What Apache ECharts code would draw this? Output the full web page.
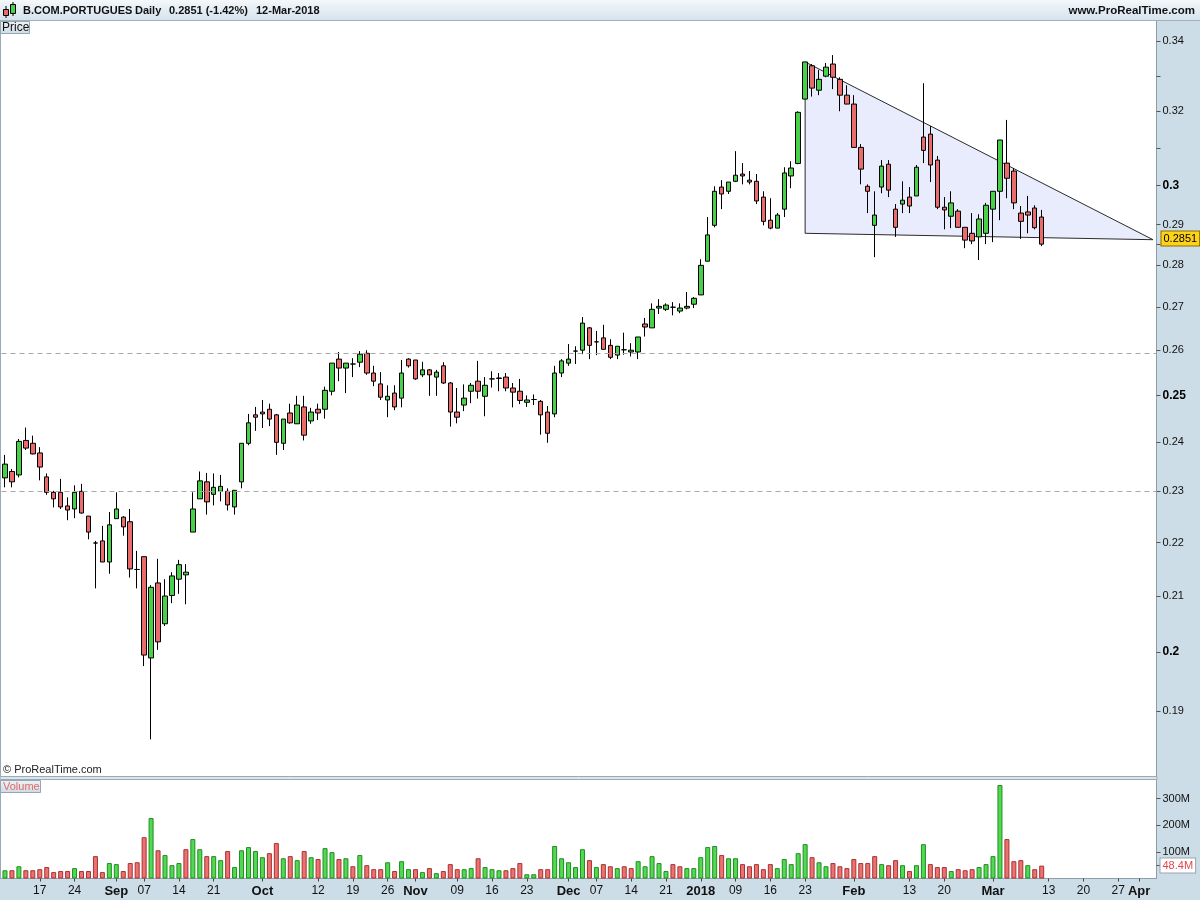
<!DOCTYPE html>
<html><head><meta charset="utf-8">
<script src="https://cdn.jsdelivr.net/npm/echarts@6/dist/echarts.min.js"></script>
<style>html,body{margin:0;padding:0;background:#fff}#c{width:1200px;height:900px}</style>
</head><body><div id="c"></div>
<script>
// ---------------- data ----------------
const dates = [
'2017-08-10','2017-08-11','2017-08-14','2017-08-15','2017-08-16','2017-08-17','2017-08-18','2017-08-21','2017-08-22','2017-08-23','2017-08-24','2017-08-25','2017-08-28','2017-08-29','2017-08-30','2017-08-31',
'2017-09-01','2017-09-04','2017-09-05','2017-09-06','2017-09-07','2017-09-08','2017-09-11','2017-09-12','2017-09-13','2017-09-14','2017-09-15','2017-09-18','2017-09-19','2017-09-20','2017-09-21','2017-09-22','2017-09-25','2017-09-26','2017-09-27','2017-09-28','2017-09-29',
'2017-10-02','2017-10-03','2017-10-04','2017-10-05','2017-10-06','2017-10-09','2017-10-10','2017-10-11','2017-10-12','2017-10-13','2017-10-16','2017-10-17','2017-10-18','2017-10-19','2017-10-20','2017-10-23','2017-10-24','2017-10-25','2017-10-26','2017-10-27','2017-10-30','2017-10-31',
'2017-11-01','2017-11-02','2017-11-03','2017-11-06','2017-11-07','2017-11-08','2017-11-09','2017-11-10','2017-11-13','2017-11-14','2017-11-15','2017-11-16','2017-11-17','2017-11-20','2017-11-21','2017-11-22','2017-11-23','2017-11-24','2017-11-27','2017-11-28','2017-11-29','2017-11-30',
'2017-12-01','2017-12-04','2017-12-05','2017-12-06','2017-12-07','2017-12-08','2017-12-11','2017-12-12','2017-12-13','2017-12-14','2017-12-15','2017-12-18','2017-12-19','2017-12-20','2017-12-21','2017-12-22','2017-12-27','2017-12-28','2017-12-29',
'2018-01-02','2018-01-03','2018-01-04','2018-01-05','2018-01-08','2018-01-09','2018-01-10','2018-01-11','2018-01-12','2018-01-15','2018-01-16','2018-01-17','2018-01-18','2018-01-19','2018-01-22','2018-01-23','2018-01-24','2018-01-25','2018-01-26','2018-01-29','2018-01-30','2018-01-31',
'2018-02-01','2018-02-02','2018-02-05','2018-02-06','2018-02-07','2018-02-08','2018-02-09','2018-02-12','2018-02-13','2018-02-14','2018-02-15','2018-02-16','2018-02-19','2018-02-20','2018-02-21','2018-02-22','2018-02-23','2018-02-26','2018-02-27','2018-02-28',
'2018-03-01','2018-03-02','2018-03-05','2018-03-06','2018-03-07','2018-03-08','2018-03-09','2018-03-12',
'2018-03-13','2018-03-14','2018-03-15','2018-03-16','2018-03-19','2018-03-20','2018-03-21','2018-03-22','2018-03-23','2018-03-26','2018-03-27','2018-03-28','2018-03-29','2018-04-03','2018-04-04','2018-04-05'
];
const open = [
.2327,.2340,.2333,.2404,.2398,.2378,.2329,.2298,.2298,.2271,.2265,.2300,.2251,.2199,.2203,.2163,.2246,.2249,.2240,.2149,
.2173,.1990,.2124,.2050,.2101,.2131,.2139,.2220,.2285,.2319,.2294,.2300,.2300,.2269,.2319,.2398,.2458,.2464,.2470,.2458,
.2398,.2462,.2439,.2475,.2445,.2470,.2470,.2509,.2580,.2560,.2569,.2573,.2593,.2549,.2525,.2490,.2505,.2494,.2580,.2578,
.2545,.2556,.2540,.2565,.2527,.2464,.2479,.2509,.2531,.2498,.2536,.2537,.2540,.2516,.2509,.2485,.2491,.2487,.2464,.2460,
.2549,.2571,.2598,.2600,.2651,.2619,.2628,.2611,.2589,.2601,.2596,.2596,.2660,.2651,.2697,.2694,.2699,.2690,.2697,.2706,
.2728,.2809,.2898,.2996,.2985,.3011,.3030,.3014,.3011,.2970,.2911,.2891,.2939,.3025,.3058,.3234,.3329,.3259,.3299,.3334,
.3290,.3245,.3220,.3101,.2998,.2898,.2996,.3056,.2939,.2952,.2970,.2973,.3129,.3137,.3067,.2944,.2921,.2934,.2893,.2878,
.2869,.2878,.2939,.2985,.3059,.3038,.2929,.2932,.2942,.2919
];
const high = [
.2374,.2345,.2407,.2431,.2414,.2390,.2336,.2301,.2325,.2288,.2312,.2315,.2251,.2203,.2232,.2259,.2298,.2251,.2265,.2184,
.2173,.2120,.2169,.2131,.2144,.2167,.2159,.2298,.2340,.2337,.2336,.2333,.2306,.2302,.2398,.2460,.2475,.2490,.2482,.2460,
.2449,.2482,.2499,.2499,.2473,.2482,.2519,.2571,.2596,.2571,.2582,.2598,.2600,.2565,.2551,.2522,.2522,.2578,.2582,.2578,
.2574,.2558,.2556,.2573,.2529,.2516,.2524,.2527,.2576,.2540,.2553,.2549,.2549,.2527,.2536,.2500,.2502,.2490,.2477,.2565,
.2580,.2614,.2609,.2676,.2653,.2644,.2658,.2625,.2609,.2640,.2616,.2630,.2674,.2708,.2718,.2708,.2711,.2708,.2735,.2723,
.2814,.2919,.2998,.3014,.3009,.3091,.3059,.3038,.3030,.2985,.2967,.2929,.3048,.3064,.3200,.3340,.3334,.3317,.3337,.3360,
.3296,.3273,.3245,.3110,.3003,.2985,.3067,.3067,.2952,.3011,.2996,.3054,.3279,.3159,.3078,.2970,.2985,.2939,.2893,.2929,
.2926,.2955,.2985,.3121,.3176,.3046,.2947,.2973,.2949,.2937
];
const low = [
.2308,.2308,.2328,.2384,.2375,.2322,.2293,.2268,.2265,.2243,.2247,.2256,.2206,.2114,.2163,.2141,.2246,.2213,.2134,.2114,
.1976,.1854,.2004,.2046,.2087,.2104,.2085,.2220,.2285,.2254,.2272,.2280,.2262,.2254,.2306,.2394,.2424,.2430,.2434,.2374,
.2384,.2439,.2439,.2404,.2439,.2447,.2450,.2500,.2531,.2505,.2540,.2562,.2545,.2520,.2490,.2453,.2468,.2474,.2561,.2534,
.2540,.2499,.2499,.2525,.2433,.2440,.2466,.2483,.2493,.2455,.2517,.2509,.2509,.2474,.2481,.2475,.2479,.2416,.2399,.2453,
.2540,.2565,.2569,.2591,.2580,.2589,.2602,.2580,.2580,.2590,.2586,.2580,.2631,.2651,.2683,.2690,.2680,.2685,.2694,.2697,
.2728,.2809,.2893,.2939,.2978,.3009,.3003,.3003,.2952,.2898,.2888,.2891,.2919,.2993,.3056,.3234,.3241,.3245,.3296,.3262,
.3200,.3220,.3101,.3003,.2929,.2819,.2980,.2970,.2869,.2929,.2929,.2973,.3059,.3009,.2939,.2888,.2891,.2893,.2841,.2851,
.2812,.2851,.2856,.2911,.2967,.2939,.2864,.2878,.2888,.2846
];
const close = [
.2355,.2319,.2402,.2388,.2376,.2349,.2298,.2285,.2269,.2263,.2298,.2257,.2220,.2199,.2163,.2234,.2265,.2230,.2150,.2149,
.1995,.2116,.2018,.2100,.2137,.2158,.2144,.2265,.2321,.2279,.2308,.2310,.2273,.2302,.2398,.2441,.2453,.2460,.2449,.2400,
.2449,.2441,.2479,.2415,.2464,.2462,.2511,.2571,.2560,.2571,.2569,.2591,.2549,.2531,.2496,.2498,.2475,.2549,.2565,.2536,
.2556,.2545,.2551,.2527,.2464,.2453,.2494,.2522,.2509,.2522,.2536,.2538,.2516,.2507,.2489,.2490,.2491,.2458,.2419,.2549,
.2576,.2580,.2598,.2662,.2611,.2619,.2602,.2584,.2609,.2601,.2600,.2630,.2653,.2694,.2701,.2704,.2699,.2697,.2701,.2720,
.2799,.2874,.2985,.2978,.3009,.3027,.3025,.3009,.2960,.2908,.2891,.2924,.3033,.3046,.3197,.3340,.3265,.3290,.3325,.3296,
.3245,.3220,.3101,.3043,.2985,.2924,.3051,.2988,.2893,.2962,.2947,.3048,.3093,.3054,.2944,.2937,.2955,.2893,.2861,.2859,
.2914,.2949,.2985,.3121,.3019,.2955,.2908,.2924,.2892,.2851
];
const volumeM = [
31,31,46,31,31,35,43,24,28,28,39,28,28,84,24,58,54,28,58,61,
155,227,106,88,50,58,110,148,110,84,84,69,103,43,106,118,103,80,95,133,
76,84,69,103,80,73,114,99,73,76,46,88,50,35,35,61,28,65,35,35,
24,39,20,28,54,35,35,39,76,43,35,31,31,39,58,16,16,35,35,122,
76,61,43,110,69,43,54,46,39,46,39,65,46,84,58,28,54,46,39,39,
80,118,122,88,76,76,54,46,54,35,54,39,73,54,95,129,80,61,46,58,
46,39,73,58,58,84,54,50,69,50,28,50,129,54,43,43,28,35,31,35,
43,54,84,351,148,65,69,50,35,48.4
];
const priceTicks = [0.34,0.32,0.3,0.29,0.28,0.27,0.26,0.25,0.24,0.23,0.22,0.21,0.2,0.19];
const boldPriceTicks = [0.3,0.25,0.2];
const minorPriceTicks = [0.33,0.31];
const volumeTicksM = [100,200,300];
const xLabelDates = ['2017-08-17','2017-08-24','2017-09-01','2017-09-07','2017-09-14','2017-09-21','2017-10-02','2017-10-12','2017-10-19','2017-10-26','2017-11-01','2017-11-09','2017-11-16','2017-11-23','2017-12-01','2017-12-07','2017-12-14','2017-12-21','2018-01-02','2018-01-09','2018-01-16','2018-01-23','2018-02-01','2018-02-13','2018-02-20','2018-03-01','2018-03-13','2018-03-20','2018-03-27','2018-04-03'];
const xLabelTexts = ['17','24','Sep','07','14','21','Oct','12','19','26','Nov','09','16','23','Dec','07','14','21','2018','09','16','23','Feb','13','20','Mar','13','20','27','Apr'];
const boldXLabels = ['Sep','Oct','Nov','Dec','2018','Feb','Mar','Apr'];
const lastPrice = 0.2851;
const lastVolumeM = 48.4;
const levelLines = [0.2588, 0.2304];
const triangleDates = ['2018-01-23','2018-01-23','2018-04-05'];
const trianglePrices = [0.3340, 0.2878, 0.2862];

// ---------------- build ----------------
const FONT = '"Liberation Sans", Arial, sans-serif';
const ln = Math.log;
const labelMap = {};
xLabelDates.forEach((d, k) => { labelMap[d] = xLabelTexts[k]; });
const candleData = open.map((o, i) => [ln(o), ln(close[i]), ln(low[i]), ln(high[i])]);
const GREEN = '#48d048', RED = '#e96b6b';
const volData = volumeM.map((v, i) => {
  const up = i === 0 ? true : close[i] > close[i - 1];
  return { value: v * 1e6, itemStyle: up ? { color: '#52d852', borderColor: '#1f8f1f' } : { color: '#ec7272', borderColor: '#a83232' } };
});
const fmtPrice = v => {
  const p = +Math.exp(v).toFixed(2);
  const s = String(p);
  return boldPriceTicks.indexOf(p) >= 0 ? '{b|' + s + '}' : s;
};
const triIdx = triangleDates.map(d => dates.indexOf(d));

const chart = echarts.init(document.getElementById('c'), null, { renderer: 'canvas' });
const axisGray = '#8d9ca8';
const hidden = 'rgba(0,0,0,0)';
chart.setOption({
  animation: false,
  textStyle: { fontFamily: FONT },
  grid: [
    { left: 1.5, right: 43.5, top: 21, height: 755 },
    { left: 1.5, right: 43.5, top: 780.5, height: 98 }
  ],
  xAxis: [
    { type: 'category', gridIndex: 0, data: dates, boundaryGap: true,
      axisLine: { show: false }, axisTick: { show: false }, axisLabel: { show: false }, splitLine: { show: false } },
    { type: 'category', gridIndex: 1, data: dates, boundaryGap: true,
      axisLine: { show: true, lineStyle: { color: axisGray } },
      axisTick: { show: true, alignWithLabel: true, length: 3, interval: (i, v) => !!labelMap[v], lineStyle: { color: '#444' } },
      axisLabel: { show: true, interval: (i, v) => !!labelMap[v], margin: 6, fontSize: 12, color: '#111', fontFamily: FONT,
        formatter: v => { const t = labelMap[v] || ''; return boldXLabels.indexOf(t) >= 0 ? '{b|' + t + '}' : t; },
        rich: { b: { fontWeight: 'bold', fontSize: 13, color: '#111', fontFamily: FONT } } },
      splitLine: { show: false } }
  ],
  yAxis: [
    { type: 'value', gridIndex: 0, position: 'right', min: ln(0.1796), max: ln(0.3461),
      axisLine: { show: true, lineStyle: { color: axisGray } },
      axisTick: { show: true, length: 4, customValues: priceTicks.concat(minorPriceTicks, [lastPrice]).map(ln), lineStyle: { color: '#555' } },
      axisLabel: { show: true, customValues: priceTicks.map(ln), formatter: fmtPrice, margin: 6, fontSize: 11, color: '#111', fontFamily: FONT,
        rich: { b: { fontWeight: 'bold', fontSize: 12, color: '#000', fontFamily: FONT } } },
      splitLine: { show: false } },
    { type: 'value', gridIndex: 1, position: 'right', min: 0, max: 368e6,
      axisLine: { show: true, lineStyle: { color: axisGray } },
      axisTick: { show: true, length: 4, customValues: volumeTicksM.concat([lastVolumeM]).map(v => v * 1e6), lineStyle: { color: '#555' } },
      axisLabel: { show: true, customValues: volumeTicksM.map(v => v * 1e6), formatter: v => Math.round(v / 1e6) + 'M', margin: 6, fontSize: 11, color: '#111', fontFamily: FONT },
      splitLine: { show: false } }
  ],
  series: [
    { type: 'custom', xAxisIndex: 0, yAxisIndex: 0, z: 1, silent: true,
      data: [[triIdx[0], ln(trianglePrices[0])]],
      renderItem: (params, api) => {
        const pts = triIdx.map((x, k) => api.coord([x, ln(trianglePrices[k])]));
        return { type: 'polygon', shape: { points: pts }, style: { fill: '#e8ecfc', stroke: '#2a2a2a', lineWidth: 1 } };
      } },
    { type: 'candlestick', xAxisIndex: 0, yAxisIndex: 0, z: 3, data: candleData, barWidth: 5,
      itemStyle: { color: GREEN, color0: RED, borderColor: '#000', borderColor0: '#000', borderColorDoji: '#000', borderWidth: 1 },
      markLine: { silent: true, symbol: 'none', animation: false,
        data: [
          { yAxis: ln(levelLines[0]), lineStyle: { type: [5, 4], color: '#a8a8a8', width: 1 }, label: { show: false } },
          { yAxis: ln(levelLines[1]), lineStyle: { type: [5, 4], color: '#a8a8a8', width: 1 }, label: { show: false } },
          { yAxis: ln(lastPrice), lineStyle: { color: hidden, width: 1 },
            label: { show: true, position: 'end', distance: 5, formatter: String(lastPrice), fontSize: 11, color: '#000', fontFamily: FONT,
              backgroundColor: '#ffd21a', borderColor: '#8a6d00', borderWidth: 1, padding: [2, 2, 1, 2] } }
        ] } },
    { type: 'bar', xAxisIndex: 1, yAxisIndex: 1, data: volData, barWidth: 5, itemStyle: { borderWidth: 1 },
      markLine: { silent: true, symbol: 'none', animation: false,
        data: [{ yAxis: lastVolumeM * 1e6, lineStyle: { color: hidden, width: 1 },
          label: { show: true, position: 'end', distance: 4, formatter: lastVolumeM + 'M', fontSize: 11, color: '#e0474c', fontFamily: FONT,
            backgroundColor: '#ffffff', borderColor: '#9aa5ae', borderWidth: 1, padding: [2, 2, 1, 2] } }] } }
  ],
  graphic: [
    // header bar
    { type: 'rect', z: -1, silent: true, shape: { x: 0, y: 0, width: 1200, height: 20 },
      style: { fill: new echarts.graphic.LinearGradient(0, 0, 0, 1, [{ offset: 0, color: '#f3f8fb' }, { offset: 1, color: '#d6e3ec' }]) } },
    { type: 'line', silent: true, shape: { x1: 0, y1: 20.5, x2: 1200, y2: 20.5 }, style: { stroke: '#9fb2c0', lineWidth: 1 } },
    // right axis column and bottom axis band
    { type: 'rect', z: -1, silent: true, shape: { x: 1157, y: 21, width: 43, height: 858 }, style: { fill: '#cddde7' } },
    { type: 'rect', z: -1, silent: true, shape: { x: 0, y: 879, width: 1200, height: 21 }, style: { fill: '#cddde7' } },
    // pane borders
    { type: 'line', silent: true, shape: { x1: 0.5, y1: 21, x2: 0.5, y2: 879 }, style: { stroke: '#9aabb8', lineWidth: 1 } },
    { type: 'rect', silent: true, shape: { x: 0, y: 776.5, width: 1157, height: 3 }, style: { fill: '#dbe4ea', stroke: '#9aabb8', lineWidth: 1 } },
    // icon
    { type: 'line', silent: true, shape: { x1: 6, y1: 6, x2: 6, y2: 18 }, style: { stroke: '#000', lineWidth: 1 } },
    { type: 'rect', silent: true, shape: { x: 3.5, y: 9.5, width: 5, height: 6 }, style: { fill: '#e96b6b', stroke: '#000', lineWidth: 1 } },
    { type: 'line', silent: true, shape: { x1: 13, y1: 2, x2: 13, y2: 16 }, style: { stroke: '#000', lineWidth: 1 } },
    { type: 'rect', silent: true, shape: { x: 10.5, y: 4.5, width: 5, height: 9 }, style: { fill: '#48d048', stroke: '#000', lineWidth: 1 } },
    // header texts
    { type: 'text', silent: true, x: 23, y: 11, style: { text: 'B.COM.PORTUGUES', font: 'bold 11px ' + FONT, fill: '#111', textVerticalAlign: 'middle' } },
    { type: 'text', silent: true, x: 135, y: 11, style: { text: 'Daily', font: 'bold 11px ' + FONT, fill: '#111', textVerticalAlign: 'middle' } },
    { type: 'text', silent: true, x: 169, y: 11, style: { text: '0.2851 (-1.42%)', font: 'bold 11px ' + FONT, fill: '#111', textVerticalAlign: 'middle' } },
    { type: 'text', silent: true, x: 256, y: 11, style: { text: '12-Mar-2018', font: 'bold 11px ' + FONT, fill: '#111', textVerticalAlign: 'middle' } },
    { type: 'text', silent: true, x: 1195, y: 11, style: { text: 'www.ProRealTime.com', font: 'bold 11.5px ' + FONT, fill: '#111', textAlign: 'right', textVerticalAlign: 'middle' } },
    // pane labels
    { type: 'rect', silent: true, shape: { x: 0.5, y: 21.5, width: 29, height: 12 },
      style: { fill: new echarts.graphic.LinearGradient(0, 0, 0, 1, [{ offset: 0, color: '#eef3f6' }, { offset: 1, color: '#cfdbe3' }]), stroke: '#93a6b4', lineWidth: 1 } },
    { type: 'text', silent: true, x: 2, y: 28, style: { text: 'Price', font: '12px ' + FONT, fill: '#111', textVerticalAlign: 'middle' } },
    { type: 'rect', silent: true, shape: { x: 0.5, y: 780.5, width: 40, height: 12 },
      style: { fill: new echarts.graphic.LinearGradient(0, 0, 0, 1, [{ offset: 0, color: '#eef3f6' }, { offset: 1, color: '#cfdbe3' }]), stroke: '#93a6b4', lineWidth: 1 } },
    { type: 'text', silent: true, x: 3, y: 787, style: { text: 'Volume', font: '11px ' + FONT, fill: '#e36a6a', textVerticalAlign: 'middle' } },
    { type: 'text', silent: true, x: 3, y: 770, style: { text: '\u00a9 ProRealTime.com', font: '11px ' + FONT, fill: '#222', textVerticalAlign: 'middle' } }
  ]
});
</script>
</body></html>
